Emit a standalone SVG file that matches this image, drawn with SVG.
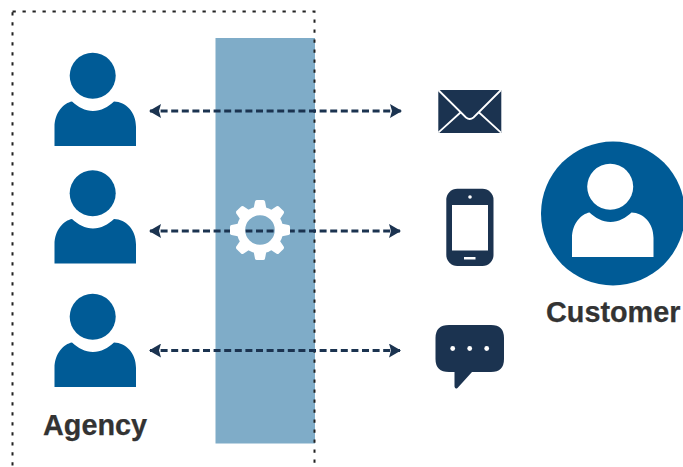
<svg xmlns="http://www.w3.org/2000/svg" xmlns:xlink="http://www.w3.org/1999/xlink" width="683" height="467" viewBox="0 0 683 467">
<style>
.lbl{font-family:"Liberation Sans",Arial,sans-serif;font-weight:700;font-size:28.8px;fill:#333;stroke:#333;stroke-width:.25}
.conn{stroke:#1b3350;stroke-width:3;stroke-dasharray:7 3.6;fill:none;marker-start:url(#ah);marker-end:url(#ah)}
.person{fill:#005b96}
.navy{fill:#1b3350}
</style>
<defs>
<marker id="ah" viewBox="0 0 12 14" refX="11" refY="7" markerWidth="12" markerHeight="14" markerUnits="userSpaceOnUse" orient="auto-start-reverse"><path d="M0 0L12 7L0 14L2 7Z" fill="#1b3350"/></marker>
<g id="figure">
<circle cx="92.7" cy="75.7" r="23"/>
<path d="M54.5 146V127C54.5 112 64 103 72 101.5C78 107 85 111 93 111C101 111 108 107 114 101.5C126 102 136 112 136 127V146Z"/>
</g>
<path id="tooth" d="M-6.500 -21L-5 -28.500Q-4.700 -30 -3.300 -30H3.300Q4.700 -30 5 -28.500L6.500 -21Z" fill="#fff"/>
</defs>
<rect x="215.500" y="38" width="99.500" height="405.500" fill="#7facc8"/>
<rect id="boundary" x="12.500" y="11.500" width="302" height="470" fill="none" stroke="#222" stroke-width="2" stroke-dasharray="3.300 6.700"/>
<g id="connectors">
<line class="conn" x1="150" y1="111" x2="401" y2="111"/>
<line class="conn" x1="150" y1="231" x2="400" y2="231"/>
<line class="conn" x1="150" y1="350.500" x2="400" y2="350.500"/>
</g>
<g id="agent1" class="person"><use xlink:href="#figure"/></g>
<g id="agent2" class="person"><use xlink:href="#figure" y="117.500"/></g>
<g id="agent3" class="person"><use xlink:href="#figure" y="241"/></g>
<g id="agency-label"><text class="lbl" x="43" y="434.500">Agency</text></g>
<g id="gear" transform="translate(260 230)">
<circle r="19" fill="none" stroke="#fff" stroke-width="8.400"/>
<use xlink:href="#tooth"/><use xlink:href="#tooth" transform="rotate(45)"/><use xlink:href="#tooth" transform="rotate(90)"/><use xlink:href="#tooth" transform="rotate(135)"/><use xlink:href="#tooth" transform="rotate(180)"/><use xlink:href="#tooth" transform="rotate(225)"/><use xlink:href="#tooth" transform="rotate(270)"/><use xlink:href="#tooth" transform="rotate(315)"/>
</g>
<g id="email">
<rect class="navy" x="438.300" y="90" width="63" height="43"/>
<path d="M438.300 90L466 117.500Q469.700 120.500 473.500 117.500L501 90M438.300 132.700L461 112M501 132.700L478.500 112" fill="none" stroke="#fff" stroke-width="1.800"/>
</g>
<g id="phone">
<rect class="navy" x="446.300" y="188.800" width="47.200" height="77.200" rx="11"/>
<rect x="452" y="205" width="36" height="45.500" fill="#fff"/>
<circle cx="470" cy="197" r="1.800" fill="#fff"/>
<rect x="464" y="257" width="11.500" height="2.500" fill="#fff"/>
</g>
<g id="chat">
<path class="navy" d="M449 325H491Q504 325 504 338V359Q504 372 491 372H472L457.500 388Q455 389.500 454.500 386.500V372H449Q435.500 372 435.500 359V338Q435.500 325 449 325Z"/>
<circle cx="452.700" cy="348.500" r="2.400" fill="#fff"/><circle cx="469.700" cy="348.500" r="2.400" fill="#fff"/><circle cx="486.700" cy="348.500" r="2.400" fill="#fff"/>
</g>
<g id="customer">
<circle cx="613" cy="213.500" r="72" fill="#005b96"/>
<use xlink:href="#figure" x="517.500" y="111" fill="#fff"/>
<text class="lbl" x="546" y="321.500">Customer</text>
</g>
</svg>
